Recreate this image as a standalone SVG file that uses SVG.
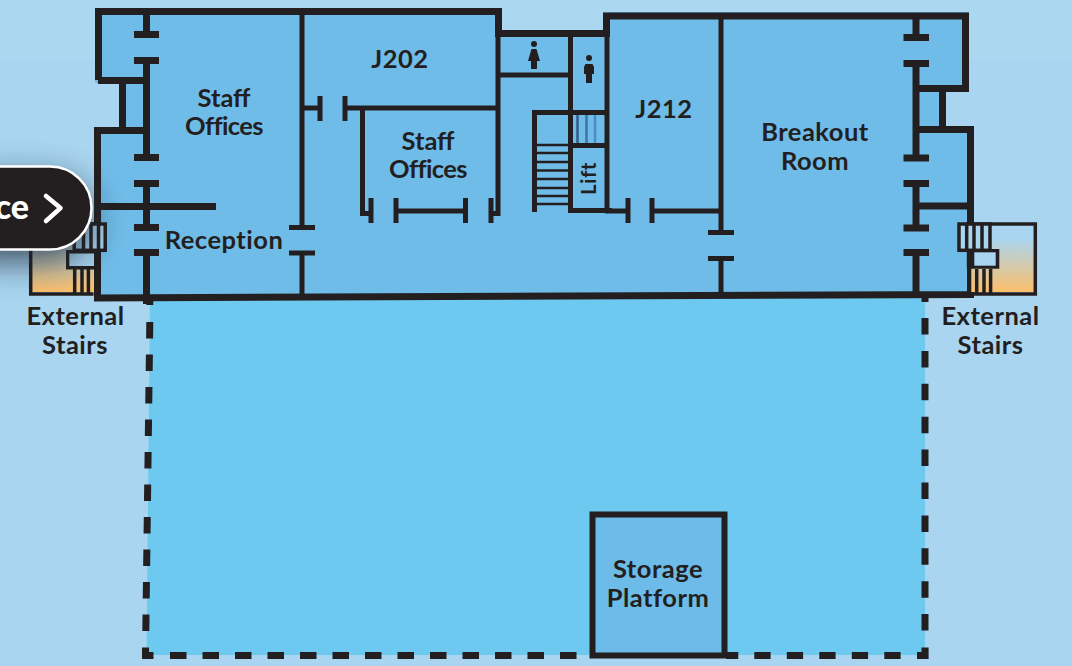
<svg xmlns="http://www.w3.org/2000/svg" width="1072" height="666" viewBox="0 0 1072 666">
<style>
.t{font-family:"Lato","Liberation Sans",sans-serif;font-weight:700;font-size:25.5px;fill:#231f20;text-anchor:middle;letter-spacing:.5px}
.n{letter-spacing:-.6px}
.w7{fill:none;stroke:#231f20;stroke-width:7}
.w5{fill:none;stroke:#231f20;stroke-width:5}
.w3{fill:none;stroke:#231f20;stroke-width:3.5}
.w2{fill:none;stroke:#231f20;stroke-width:2.7}
.ic,.k{fill:#231f20}
.sky{fill:#a9d5f1}
</style>
<defs>
<linearGradient id="or" gradientUnits="userSpaceOnUse" x1="0" y1="238" x2="0" y2="293"><stop offset="0" stop-color="#a9d5f1"/><stop offset="1" stop-color="#fdbf69"/></linearGradient>
<filter id="sh" x="-50%" y="-50%" width="200%" height="200%"><feGaussianBlur stdDeviation="17"/></filter>
</defs>
<rect width="1072" height="666" fill="#a9d5f1"/>
<rect width="1072" height="60" fill="#aed8f2" opacity=".6"/>
<g id="mezzanine">
<path d="M150 298H925V655H146.500Z" fill="#6ec9f1"/>
<path d="M149.800 322L145.800 631.500" class="w7" stroke-dasharray="16.500 16"/>
<path d="M925 318V631.500" class="w7" stroke-dasharray="16.500 16.400"/>
<path d="M149.800 298V305M925 298V302" class="w7"/>
<path d="M170 655.500H590" class="w7" stroke-dasharray="16.500 16"/>
<path d="M754.300 655.500H901" class="w7" stroke-dasharray="16.300 16.200"/>
<path d="M726 652H738.300V659H726Z" class="k"/>
<path d="M142 647.500H149V652H153.500V659H142Z" class="k"/>
<path d="M921.500 647.500H928.600V659H917V652H921.500Z" class="k"/>
</g>
<g id="storage-platform">
<rect x="592.500" y="514.500" width="132" height="141" fill="#6dbbe8" stroke="#231f20" stroke-width="6"/>
<text class="t" x="658" y="578">Storage</text>
<text class="t" x="658" y="607">Platform</text>
</g>
<g id="building">
<path d="M95 8H502V30H603V12H969V92H946V126H974V295L94 301V127H119V83H95Z" fill="#70bce9"/>
</g>
<g id="walls">
<path d="M98.500 80V11.500H498.500V33.500H606.500V16H965.500V88.500H916M122.500 80V130M97.500 297.500V130.500H147M98 80.500H147M942.500 88V129.500M916 129.500H970.500V295M94 298L974 294.500" class="w7"/>
<path d="M146.500 12V34.500M134 34.500H159M134 60.500H159M146.500 60.500V157.500M134 157.500H159M134 183.500H159M146.500 183.500V227.500M134 227.500H159M134 252.500H159M146.500 252.500V304M98 206.500H216" class="w7"/>
<path d="M916 16V37.500M903.500 37.500H929M903.500 63.500H929M916 63.500V158M903.500 158H929M903.500 183.500H929M916 183.500V228M903.500 228H929M903.500 252.500H929M916 252.500V295M916 206H970" class="w7"/>
<path d="M302 13V227.500M289 227.500H315M289 253H315M302 253V296" class="w5"/>
<path d="M303 108H320M320 96V121M345 96V121M345 108H498M498 34V213.500H489M491 198V223M465.500 198V223M396 198V223M396 211H465.500M371 198V223M371 213.500H362.500V108" class="w5"/>
<path d="M498 75H570M570.500 36V212M607 16V212M568 210.500H612M534.500 212V110M532 112.500H609M570 145.500H609M605 211H628M628 198V223M652 198V223M652 211H720" class="w5"/>
<path d="M721 18V232M708 232.500H734M708 258.500H734M721 258.500V294" class="w5"/>
<path d="M536 145H568M536 153H568M536 162H568M536 170.500H568M536 179H568M536 188H568M536 196H568M536 204H568" class="w2"/>
<path d="M570 115V143" stroke="#231f20" stroke-width="1.500" fill="none"/>
<path d="M577.500 115V143" stroke="#2f5f88" stroke-width="2.500" fill="none"/>
<path d="M586.500 115V143" stroke="#3a75a6" stroke-width="2.500" fill="none"/>
<path d="M595 115V143" stroke="#4a8dc6" stroke-width="2.500" fill="none"/>
</g>
<g id="stairs-left">
<rect x="30.700" y="224" width="62.800" height="68" fill="url(#or)"/>
<path d="M93.500 294H30.700V224H100" class="w3"/>
<rect x="74.200" y="224" width="31" height="26.300" class="sky" stroke="#231f20" stroke-width="3.500"/>
<path d="M83.500 224V251M91 224V251M98.500 224V251" class="w3"/>
<path d="M74.700 269V294M82 269V294M88.400 269V294" class="w3"/>
<path d="M66 250H101V269.500H66Z" class="k"/>
<rect x="69.300" y="253.500" width="24.700" height="12.500" class="sky"/>
</g>
<g id="stairs-right">
<rect x="971.300" y="224" width="64" height="68" fill="url(#or)"/>
<path d="M971 294H1035.300V224H966" class="w3"/>
<rect x="959" y="224" width="31" height="26.300" class="sky" stroke="#231f20" stroke-width="3.500"/>
<path d="M966.700 224V251M974 224V251M982 224V251" class="w3"/>
<path d="M976.700 269V294M984 269V294M990.600 269V294" class="w3"/>
<path d="M966.800 249H999.300V268.700H966.800Z" class="k"/>
<rect x="974.300" y="252.300" width="21.400" height="13.400" class="sky"/>
</g>
<g id="toilets">
<circle class="ic" cx="534" cy="44" r="3"/>
<path class="ic" d="M531.500 49H536.500L540 61H537V69H531V61H528Z"/>
<circle class="ic" cx="589" cy="58" r="3"/>
<path class="ic" d="M585.500 64H592.500L594 67V74H592V83H586V74H584V67Z"/>
</g>
<g id="labels">
<text class="t" x="224" y="107" style="letter-spacing:0">Staff</text>
<text class="t n" x="224" y="135">Offices</text>
<text class="t" x="224" y="249">Reception</text>
<text class="t" x="400" y="68">J202</text>
<text class="t" x="428" y="150" style="letter-spacing:0">Staff</text>
<text class="t n" x="428" y="178">Offices</text>
<text class="t" x="664" y="118">J212</text>
<text class="t" x="815" y="141">Breakout</text>
<text class="t" x="815" y="170">Room</text>
<text class="t" x="75.500" y="325">External</text>
<text class="t" x="75" y="354">Stairs</text>
<text class="t" x="990.500" y="325">External</text>
<text class="t" x="990.500" y="354">Stairs</text>
<text class="t" transform="translate(596 178.500) rotate(-90)" style="font-size:20.500px">Lift</text>
</g>
<g id="entrance-button">
<rect x="-60" y="178" width="152" height="84" rx="42" fill="#1a2530" opacity=".75" filter="url(#sh)"/>
<rect x="-60" y="166.500" width="151.500" height="83" rx="41.500" fill="#231f20" stroke="#fff" stroke-width="2.500"/>
<text x="29" y="219" style="font-family:'Lato','Liberation Sans',sans-serif;font-weight:900;font-size:34px;fill:#fff;text-anchor:end">ce</text>
<path d="M46 196L60.500 208L46 221" fill="none" stroke="#fff" stroke-width="4.500" stroke-linecap="round" stroke-linejoin="round"/>
</g>
</svg>
